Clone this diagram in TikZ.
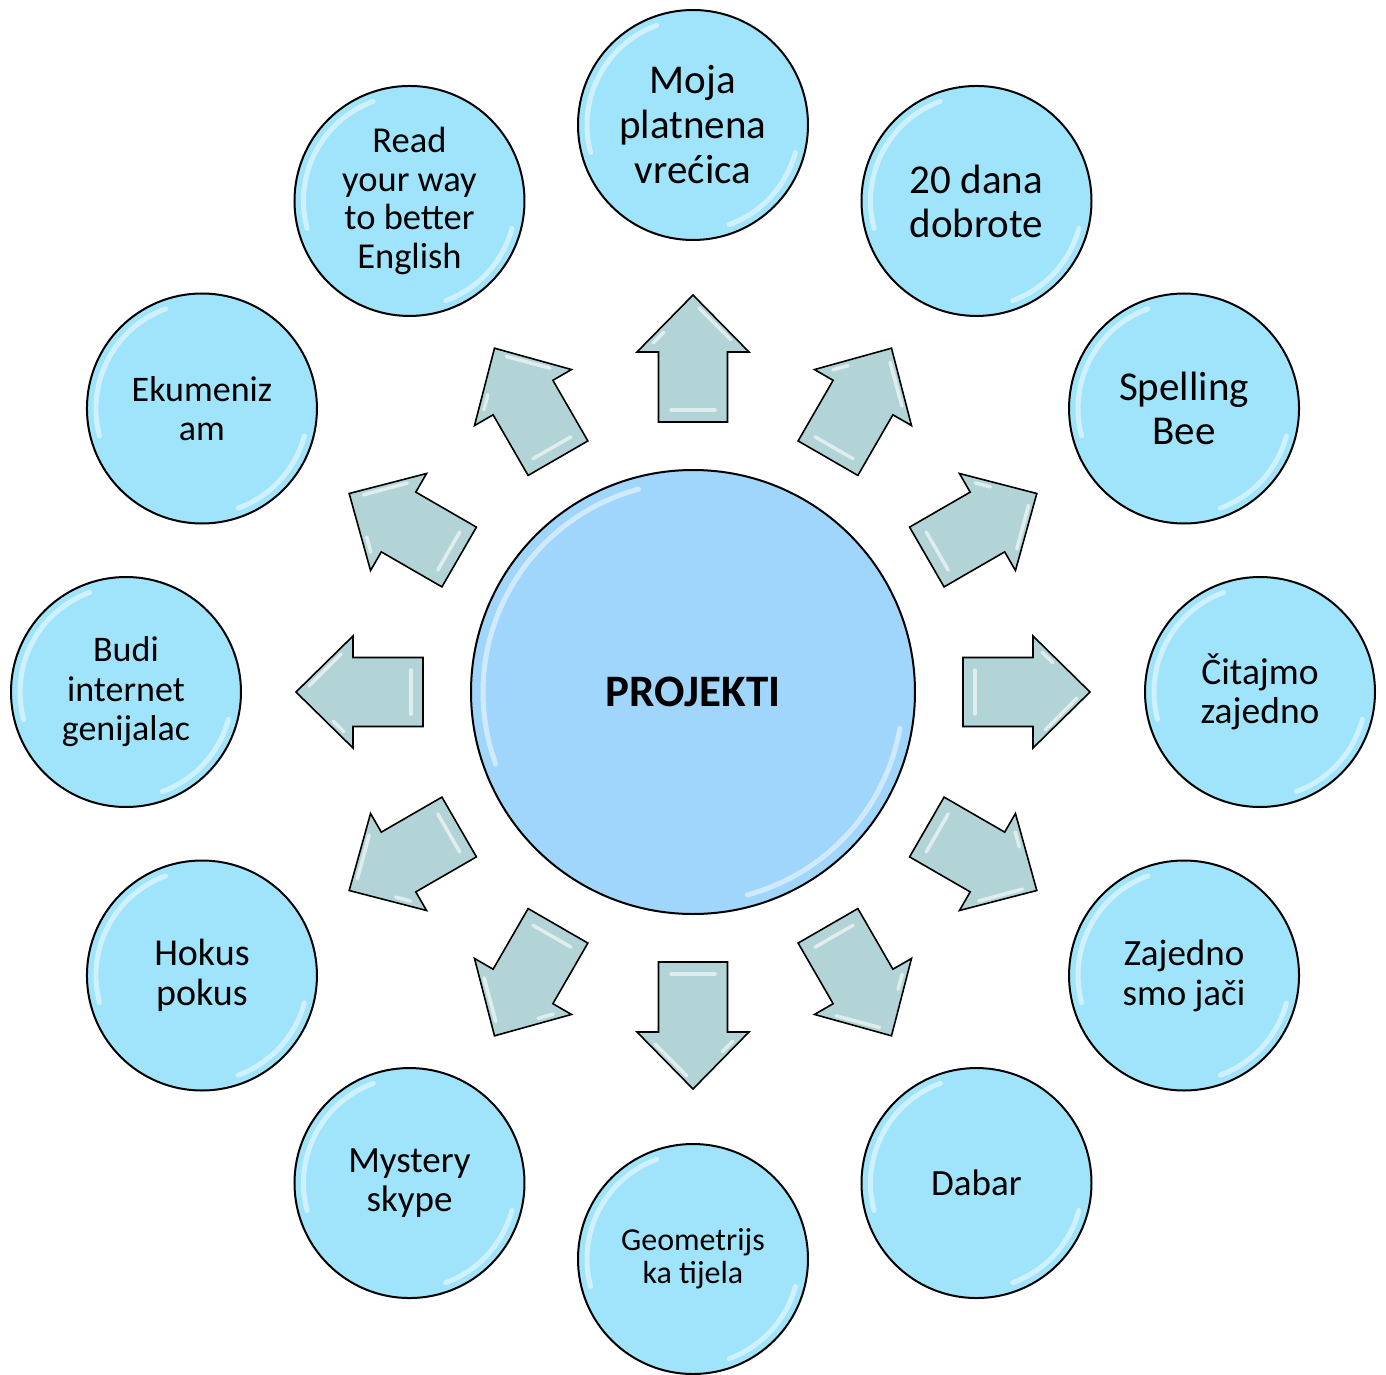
\documentclass[tikz,border=0pt]{standalone}
\usepackage{fontspec}
\setmainfont{Carlito}
\definecolor{bubfill}{HTML}{A0E4FC}
\definecolor{hubfill}{HTML}{A0D6FC}
\definecolor{arrfill}{HTML}{B3D4D6}
\begin{document}
\begin{tikzpicture}[x=1pt,y=1pt,
  bub/.style={circle, draw=black, line width=2pt, fill=bubfill, minimum size=230pt, inner sep=0pt, align=center},
  hub/.style={circle, draw=black, line width=2pt, fill=hubfill, minimum size=444pt, inner sep=0pt, font=\bfseries\fontsize{45}{50}\selectfont},
  gloss/.style={white, opacity=0.5, line width=5pt, line cap=round},
  arrsty/.style={draw=black, line width=1.6pt, fill=arrfill, line join=miter},
  agloss/.style={white, opacity=0.6, line width=3.5pt, line cap=round}]
\useasboundingbox (-693,-682) rectangle (693,692);
% arrows
\foreach \a in {0,30,...,330}{
  \begin{scope}[rotate=\a]
    \draw[arrsty] (270,-34.5) -- (340,-34.5) -- (340,-56) -- (397,0) -- (340,56) -- (340,34.5) -- (270,34.5) -- cycle;
    \draw[agloss] (282,-22) -- (282,22);
    \draw[agloss] (384,-6) -- (352,-38);
    \draw[agloss] (349,40) -- (360,29);
  \end{scope}
}
% center
\node[hub] (c) at (0,0) {PROJEKTI};
\draw[gloss] (105:210) arc[start angle=105, end angle=200, radius=210];
\draw[gloss] (285:210) arc[start angle=285, end angle=350, radius=210];
% outer bubbles
\foreach \a/\n/\t/\s/\l in {
  90/p1/{Moja\\platnena\\vrećica}/41/45,
  60/p2/{20 dana\\dobrote}/41/44,
  30/p3/{Spelling\\Bee}/41/44,
  0/p4/{Čitajmo\\zajedno}/37.5/39.5,
  -30/p5/{Zajedno\\smo jači}/37/40,
  -60/p6/{Dabar}/37/40,
  -90/p7/{Geometrijs\\ka tijela}/32/33,
  -120/p8/{Mystery\\skype}/37/39,
  -150/p9/{Hokus\\pokus}/38/40,
  180/p10/{Budi\\internet\\genijalac}/36/39.5,
  150/p11/{Ekumeniz\\am}/36/39,
  120/p12/{Read\\your way\\to better\\English}/36.5/38.5}{
  \node[bub, font=\fontsize{\s}{\l}\selectfont] (\n) at (\a:567) {\t};
  \draw[gloss] (\n.center) ++(110:106) arc[start angle=110, end angle=195, radius=106];
  \draw[gloss] (\n.center) ++(290:106) arc[start angle=290, end angle=345, radius=106];
}
\end{tikzpicture}
\end{document}
